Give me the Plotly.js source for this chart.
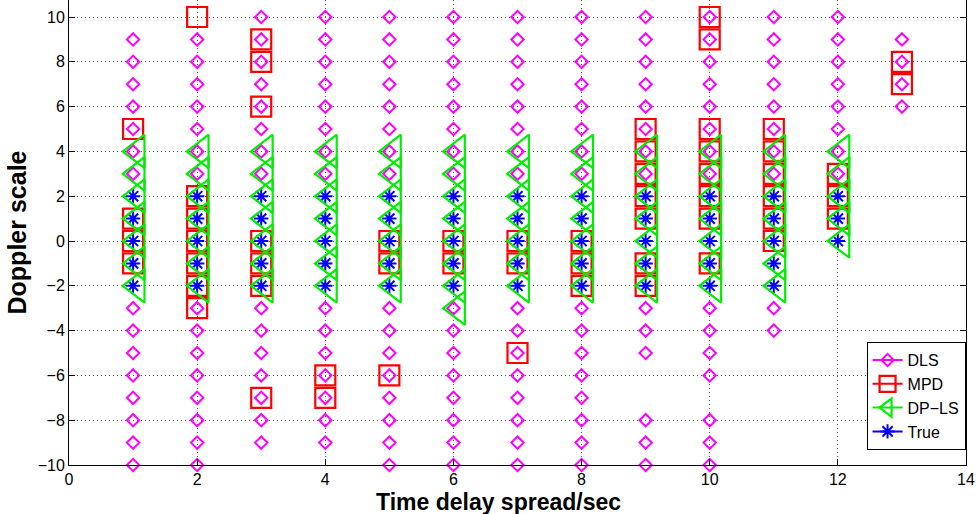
<!DOCTYPE html>
<html>
<head>
<meta charset="utf-8">
<script src="https://cdn.plot.ly/plotly-3.0.1.min.js"></script>
<style>html,body{margin:0;padding:0;background:#fff;}#chart{width:979px;height:514px;}</style>
</head>
<body>
<div id="chart"></div>
<script>
// Time delay spread columns
const xCols = [1,2,3,4,5,6,7,8,9,10,11,12,13];

// DLS (Doppler values per column)
const dlsY = [
  [9,8,7,6,5,4,3,-3,-4,-5,-6,-7,-8,-9,-10],
  [9,8,7,6,5,4,3,-3,-4,-5,-6,-7,-8,-9,-10],
  [10,9,8,7,6,5,4,3,-3,-4,-5,-6,-7,-8,-9],
  [10,9,8,7,6,5,4,3,-3,-4,-5,-6,-7,-8,-9],
  [10,9,8,7,6,5,4,3,-3,-4,-5,-6,-7,-8,-9,-10],
  [10,9,8,7,6,5,4,3,-3,-4,-5,-6,-7,-8,-9,-10],
  [10,9,8,7,6,5,4,3,-3,-4,-5,-6,-7,-8,-9,-10],
  [10,9,8,7,6,5,4,3,-3,-4,-5,-6,-7,-8,-9,-10],
  [10,9,8,7,6,5,4,3,-3,-4,-5,-8,-9,-10],
  [10,9,8,7,6,5,4,3,-3,-4,-5,-6,-8,-9,-10],
  [10,9,8,7,6,5,4,3,-3,-4],
  [10,9,8,7,6,5,4,3],
  [9,8,7,6]
];

// MPD
const mpdY = [
  [5,1,0,-1],
  [10,2,1,0,-1,-2,-3],
  [9,8,6,0,-1,-2,-7],
  [-6,-7],
  [0,-1,-6],
  [0,-1],
  [0,-1,-5],
  [0,-1,-2],
  [5,4,3,2,1,-1,-2],
  [10,9,5,4,3,2,1,-1],
  [5,4,3,2,1,0],
  [3,2,1],
  [8,7]
];

// DP-LS
const dplsY = [
  [4,3,2,1,0,-1,-2],
  [4,3,2,1,0,-1,-2],
  [4,3,2,1,0,-1,-2],
  [4,3,2,1,0,-1,-2],
  [4,3,2,1,0,-1,-2],
  [4,3,2,1,0,-1,-2,-3],
  [4,3,2,1,0,-1,-2],
  [4,3,2,1,0,-1,-2],
  [4,3,2,1,0,-1,-2],
  [4,3,2,1,0,-1,-2],
  [4,3,2,1,0,-1,-2],
  [4,3,2,1,0],
  []
];

// True
const trueY = [
  [2,1,0,-1,-2],
  [2,1,0,-1,-2],
  [2,1,0,-1,-2],
  [2,1,0,-1,-2],
  [2,1,0,-1,-2],
  [2,1,0,-1,-2],
  [2,1,0,-1,-2],
  [2,1,0,-1,-2],
  [2,1,0,-1,-2],
  [2,1,0,-1,-2],
  [2,1,0,-1,-2],
  [2,1,0],
  []
];

const xTicks = [0,2,4,6,8,10,12,14];
const yTicks = [-10,-8,-6,-4,-2,0,2,4,6,8,10];
const seriesNames = ['DLS','MPD','DP\u2212LS','True'];
const xTitle = 'Time delay spread/sec';
const yTitle = 'Doppler scale';

function flatten(cols){
  const xs=[], ys=[];
  cols.forEach((list,i)=>{
    list.forEach(v=>{ xs.push(xCols[i]); ys.push(v); xs.push(null); ys.push(null); });
  });
  return {x:xs,y:ys};
}

const d1=flatten(dlsY), d2=flatten(mpdY), d3=flatten(dplsY), d4=flatten(trueY);

const traces = [
  {x:d1.x,y:d1.y,name:seriesNames[0],mode:'lines+markers',connectgaps:false,cliponaxis:false,
   line:{color:'#ff00ff',width:2},
   marker:{symbol:'diamond-open',size:9.5,color:'#ff00ff',line:{width:2,color:'#ff00ff'}}},
  {x:d2.x,y:d2.y,name:seriesNames[1],mode:'lines+markers',connectgaps:false,cliponaxis:false,
   line:{color:'#ff0000',width:2},
   marker:{symbol:'square-open',size:20,color:'#ff0000',line:{width:2.2,color:'#ff0000'}}},
  {x:d3.x,y:d3.y,name:seriesNames[2],mode:'lines+markers',connectgaps:false,cliponaxis:false,xaxis:'x2',
   line:{color:'#00ee00',width:2},
   marker:{symbol:'triangle-left-open',size:29,color:'#00ee00',line:{width:2.2,color:'#00ee00'}}},
  {x:d4.x,y:d4.y,name:seriesNames[3],mode:'lines+markers',connectgaps:false,cliponaxis:false,
   line:{color:'#0000ff',width:2},
   marker:{symbol:'asterisk-open',size:12,color:'#0000ff',line:{width:2,color:'#0000ff'}}}
];

const font = 'Liberation Sans, Arial, Helvetica, sans-serif';
const layout = {
  width:979, height:514,
  margin:{l:69,r:13,t:0,b:49},
  paper_bgcolor:'#fff', plot_bgcolor:'#fff',
  font:{family:font,size:16,color:'#000'},
  showlegend:true,
  legend:{x:0.9995,y:0.032,xanchor:'right',yanchor:'bottom',bordercolor:'#000',borderwidth:1,
    bgcolor:'#fff',font:{family:font,size:16,color:'#000'},tracegroupgap:0,itemwidth:30},
  xaxis:{range:[0,14],tickvals:xTicks,ticks:'inside',ticklen:6,tickcolor:'#000',
    showline:true,linecolor:'#000',linewidth:1,mirror:false,zeroline:false,
    showgrid:true,gridcolor:'#555',griddash:'1px,3px',gridwidth:1,
    tickfont:{family:font,size:16,color:'#000'}},
  xaxis2:{range:[-0.065,13.935],overlaying:'x',visible:false,showgrid:false,zeroline:false},
  yaxis:{range:[-10,10.76],tickvals:yTicks,ticks:'inside',ticklen:6,tickcolor:'#000',
    showline:true,linecolor:'#000',linewidth:1,mirror:'ticks',zeroline:false,
    showgrid:true,gridcolor:'#555',griddash:'1px,3px',gridwidth:1,
    tickfont:{family:font,size:16,color:'#000'},
    title:{text:'<b>'+yTitle+'</b>',font:{family:font,size:25,color:'#000'},standoff:3}},
  annotations:[
    {text:'<b>'+xTitle+'</b>',xref:'paper',yref:'paper',x:0.479,y:-0.047,xanchor:'center',yanchor:'top',
     showarrow:false,font:{family:font,size:23,color:'#000'}}
  ]
};

Plotly.newPlot('chart',traces,layout,{displayModeBar:false,staticPlot:true});
</script>
</body>
</html>
